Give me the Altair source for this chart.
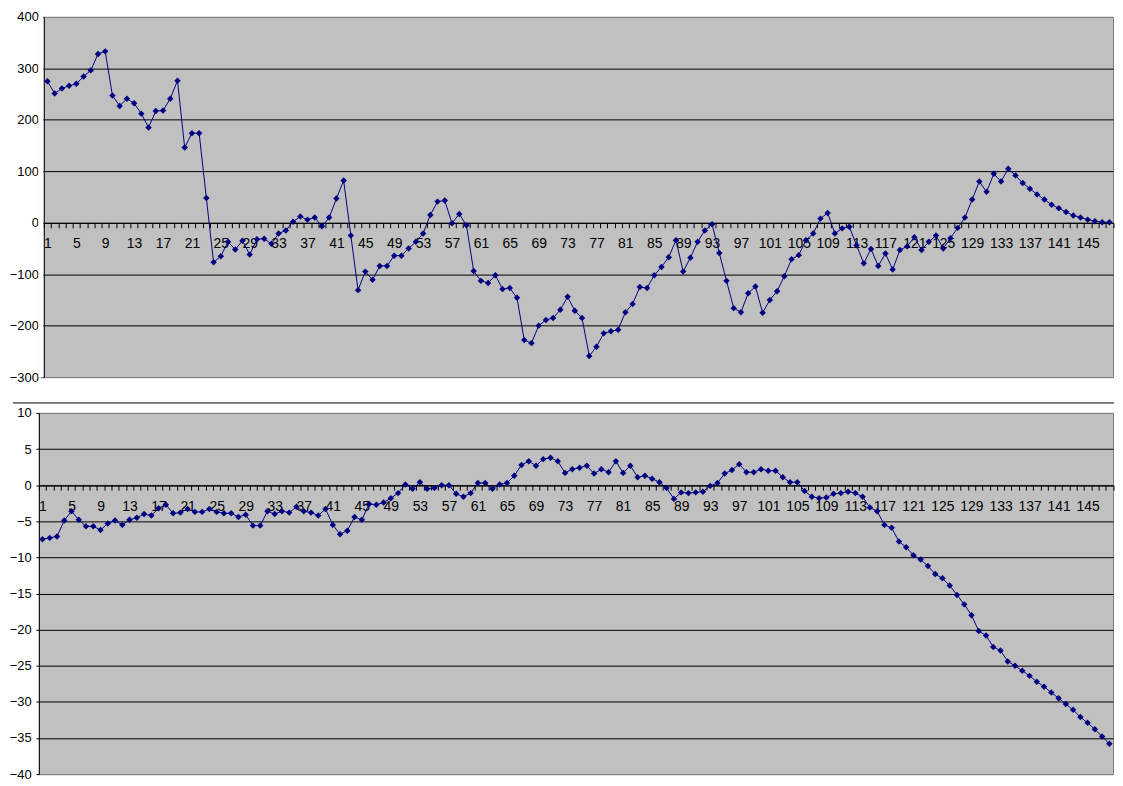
import altair as alt
import pandas as pd

categories = list(range(1, 149))

top_values = [
    275, 251, 261, 266, 270, 284, 296, 328, 333, 247,
    227, 241, 232, 212, 185, 217, 218, 241, 276, 146,
    174, 174, 48, -77, -65, -37, -52, -35, -62, -32,
    -31, -41, -21, -15, 2, 12, 6, 10, -7, 10,
    47, 82, -25, -131, -95, -111, -84, -84, -64, -64,
    -50, -37, -21, 15, 41, 43, -1, 17, -5, -94,
    -113, -117, -102, -129, -127, -146, -228, -234, -200, -189,
    -185, -169, -144, -171, -185, -259, -241, -215, -211, -208,
    -174, -158, -125, -127, -102, -86, -67, -34, -95, -68,
    -37, -15, -3, -59, -113, -166, -174, -137, -124, -175,
    -150, -133, -104, -71, -63, -34, -21, 8, 19, -21,
    -11, -8, -44, -79, -51, -84, -60, -91, -53, -46,
    -28, -53, -37, -25, -50, -30, -10, 10, 45, 80,
    60, 95, 80, 105, 92, 77, 66, 55, 45, 35,
    28, 21, 14, 10, 6, 3, 1, 1,
]

bottom_values = [
    -7.5, -7.3, -7.1, -4.9, -3.6, -4.8, -5.7, -5.7, -6.2, -5.3,
    -4.9, -5.5, -4.8, -4.5, -4.0, -4.2, -3.2, -2.7, -3.9, -3.8,
    -3.3, -3.7, -3.7, -3.3, -3.7, -3.9, -3.9, -4.4, -4.1, -5.6,
    -5.6, -3.6, -4.0, -3.6, -3.8, -3.0, -3.6, -3.8, -4.2, -3.3,
    -5.5, -6.8, -6.3, -4.4, -4.8, -2.6, -2.7, -2.4, -1.8, -1.1,
    0.1, -0.5, 0.4, -0.5, -0.4, 0.0, 0.0, -1.2, -1.6, -1.1,
    0.3, 0.3, -0.5, 0.1, 0.3, 1.3, 2.8, 3.3, 2.7, 3.6,
    3.8, 3.3, 1.7, 2.2, 2.4, 2.7, 1.6, 2.2, 1.8, 3.3,
    1.7, 2.7, 1.1, 1.3, 0.9, 0.4, -0.4, -1.9, -1.0, -1.1,
    -1.0, -0.9, -0.1, 0.3, 1.6, 2.1, 2.9, 1.8, 1.8, 2.2,
    2.0, 2.0, 1.1, 0.4, 0.4, -0.8, -1.6, -1.8, -1.7, -1.2,
    -1.1, -0.9, -1.1, -1.6, -3.1, -3.6, -5.5, -5.9, -7.8, -8.6,
    -9.7, -10.3, -11.2, -12.3, -12.9, -13.9, -15.2, -16.5, -18.0, -20.2,
    -20.8, -22.4, -22.9, -24.4, -25.0, -25.7, -26.4, -27.2, -27.9, -28.7,
    -29.5, -30.3, -31.1, -32.1, -32.9, -33.8, -34.8, -35.8,
]

top_ticks = [-300, -200, -100, 0, 100, 200, 300, 400]
bottom_ticks = [-40, -35, -30, -25, -20, -15, -10, -5, 0, 5, 10]

FONT = "Liberation Sans"
NAVY = "#000080"
PLOT_W = 1079.5      # both panels share origin and right edge
TOP_SHIFT = 5        # the upper plot area starts a little further right
TOP_H = 362
BOT_H = 363


def panel(values, ticks, height, zero_offset, shift, label_pad, extra_before=None):
    df = pd.DataFrame({"idx": categories, "val": values})
    lo, hi = ticks[0], ticks[-1]
    x = alt.X(
        "idx:O",
        bandPosition=0.5,
        scale=alt.Scale(type="band", paddingInner=0, paddingOuter=0, range=[shift, PLOT_W]),
        axis=alt.Axis(
            title=None, orient="bottom", offset=zero_offset, grid=False,
            domainColor="black", tickColor="black", tickSize=5, tickBand="extent",
            labelExpr="(datum.value - 1) % 4 === 0 ? datum.label : ''",
            labelAngle=0, labelOverlap=False, labelBound=False, labelFlush=False,
            labelFont=FONT, labelFontSize=14, labelColor="black", labelPadding=9,
        ),
    )
    y = alt.Y(
        "val:Q",
        scale=alt.Scale(domain=[lo, hi], nice=False, zero=False),
        axis=alt.Axis(
            title=None, values=ticks, grid=True, offset=-shift,
            gridColor={"condition": {"test": f"datum.value === {hi} || datum.value === {lo}",
                                     "value": "#808080"}, "value": "black"},
            gridWidth=1, domainColor="black", tickColor="black", tickSize=3,
            labelFont=FONT, labelFontSize=13, labelColor="black", labelPadding=label_pad,
        ),
    )
    base = alt.Chart(df).encode(x=x, y=y)
    line = base.mark_line(color=NAVY, strokeWidth=1)
    pts = base.mark_point(shape="diamond", filled=True, size=42, color=NAVY, opacity=1)
    layers = [line, pts]
    if extra_before is not None:
        layers = extra_before + layers
    return alt.layer(*layers).properties(width=PLOT_W, height=height)


one = pd.DataFrame({"a": [0]})

# white strip left of the upper plot area (the upper panel is narrower than the lower one)
top_mask = alt.Chart(one).mark_rect(color="white", clip=False).encode(
    x=alt.value(-0.5), x2=alt.value(TOP_SHIFT - 0.5),
    y=alt.value(-0.5), y2=alt.value(TOP_H + 0.5),
)

separator = alt.Chart(one).mark_rule(color="black", strokeWidth=1, clip=False).encode(
    x=alt.value(-26), x2=alt.value(PLOT_W + 1), y=alt.value(-10), y2=alt.value(-10)
)

top = panel(top_values, top_ticks, TOP_H, -155.1, TOP_SHIFT, 2.5, extra_before=[top_mask])
bottom = panel(bottom_values, bottom_ticks, BOT_H, -290.4, 0, 4.7, extra_before=[separator])

chart = alt.vconcat(top, bottom, spacing=17).properties(
    padding={"top": 0, "left": 0, "right": 0, "bottom": 0},
    background="white",
).configure_view(fill="#C0C0C0", stroke="#808080", strokeWidth=1)

chart.save("out.html", embed_options={"renderer": "svg", "actions": False})
